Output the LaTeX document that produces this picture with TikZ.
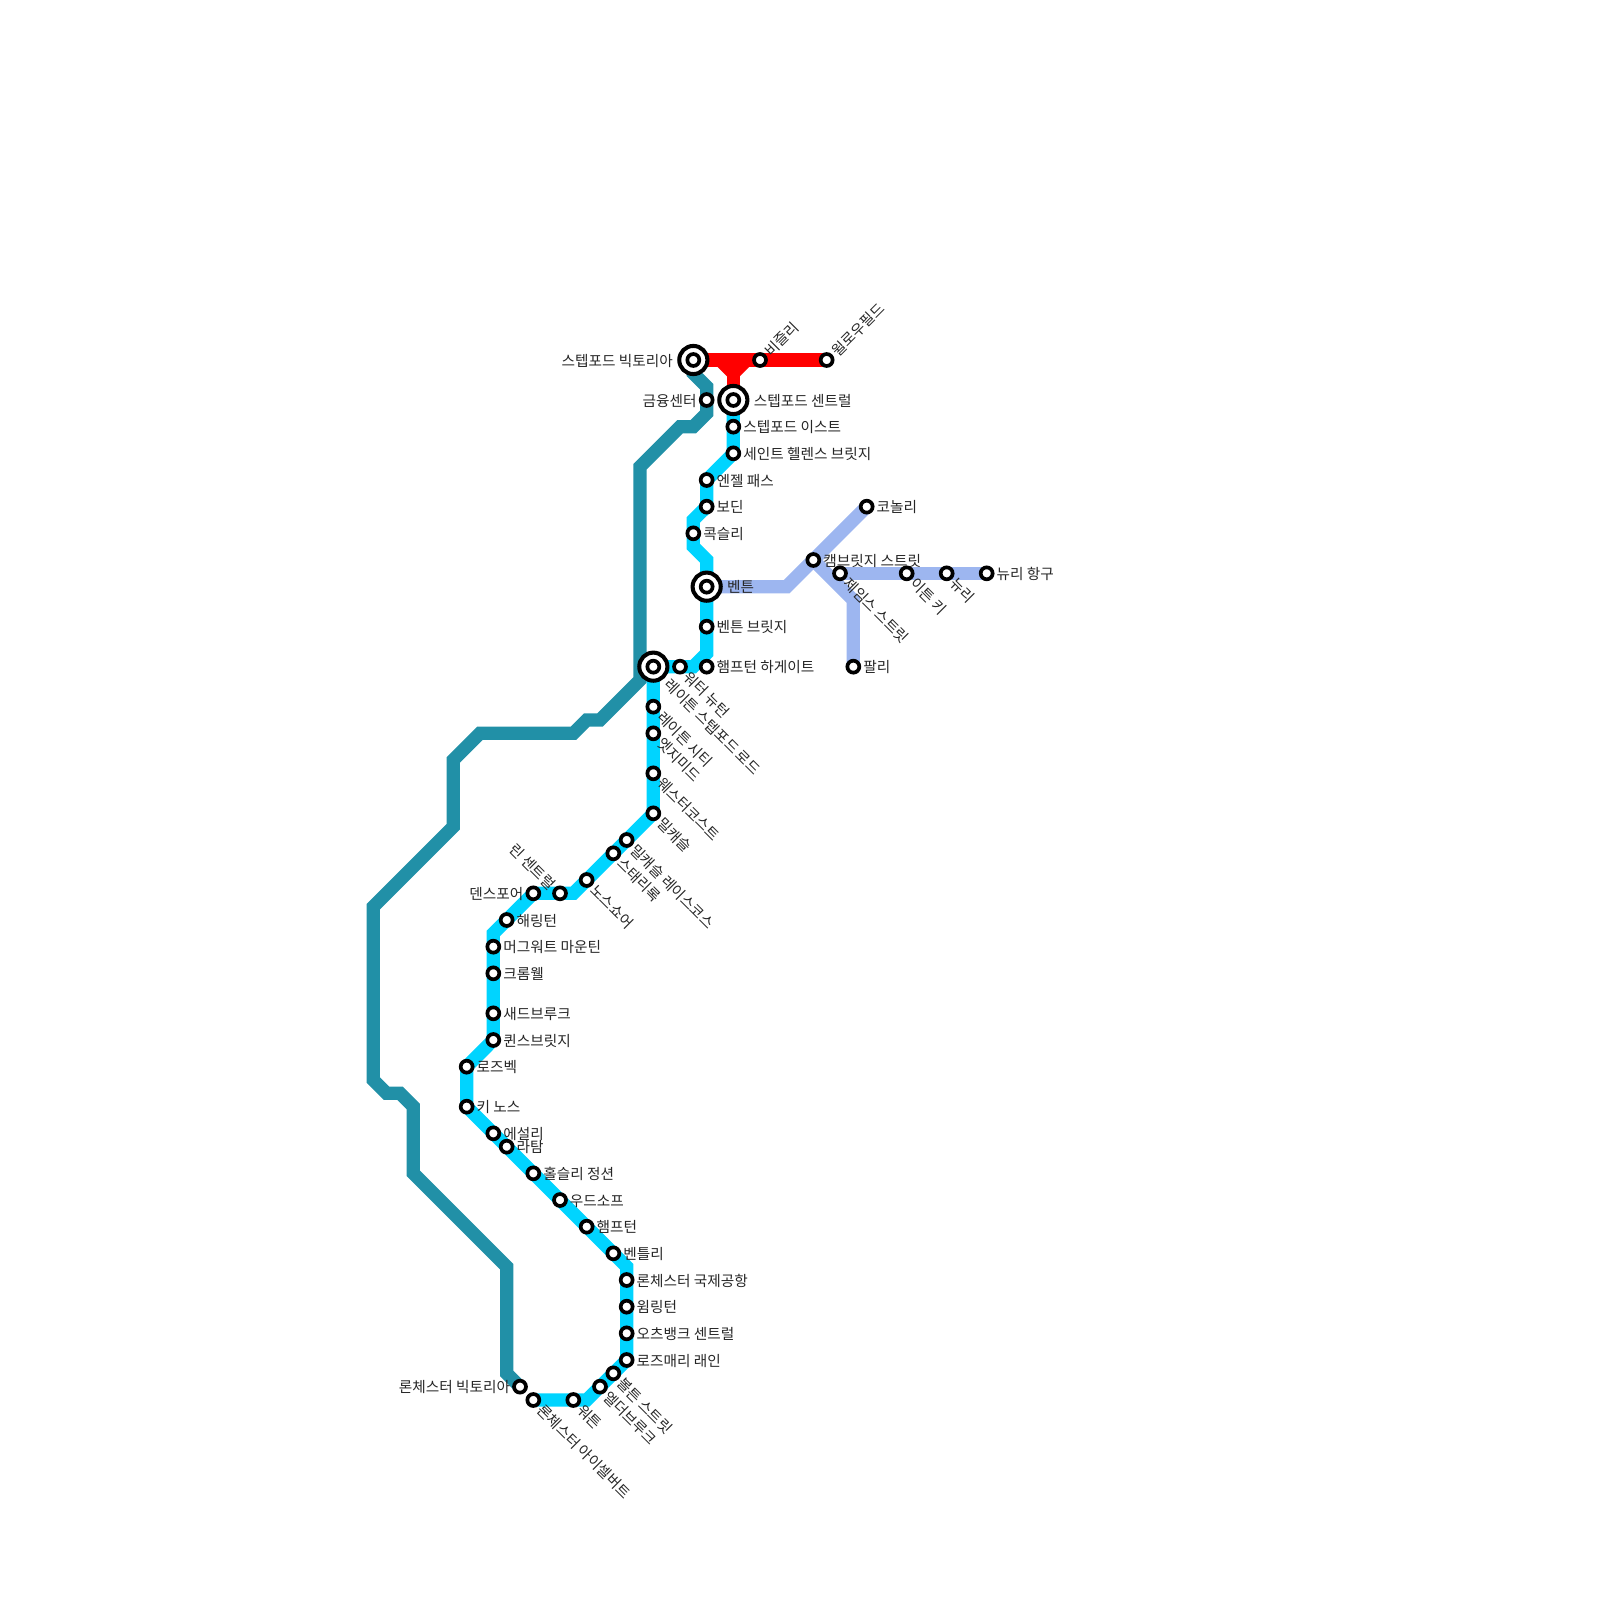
\documentclass[tikz,border=0pt]{standalone}
\usepackage{fontspec}
\setmainfont{Noto Sans CJK KR}
\pgfdeclarelayer{bg}
\pgfsetlayers{bg,main}
\definecolor{teal1}{RGB}{33,144,167}
\definecolor{cyan1}{RGB}{0,212,255}
\definecolor{blue1}{RGB}{157,182,240}
\definecolor{red1}{RGB}{255,0,0}
\tikzset{
  route/.style={line width=3.78pt,line join=miter},
  stat/.style={circle,draw=black,fill=white,line width=1.05pt,minimum size=3.4pt,inner sep=0pt},
  hub/.style={circle,draw=black,fill=white,line width=1.15pt,minimum size=8pt,inner sep=0pt},
  txt/.style={inner sep=0pt,outer sep=0pt,text=black!85,font=\fontsize{4.17pt}{4.17pt}\selectfont,text height=4pt,text depth=.5pt},
  lr/.style={txt,anchor=west},
  ll/.style={txt,anchor=east},
  ld/.style={txt,anchor=west,rotate=-45},
  lu/.style={txt,anchor=west,rotate=45},
  le/.style={txt,anchor=east,rotate=-45},
}
\newcommand\sR[4]{\node[stat] (#1) at (#2,#3) {};\node[lr] (#1-l) at ([xshift=2.835pt]#1.center) {#4};}
\newcommand\sL[4]{\node[stat] (#1) at (#2,#3) {};\node[ll] (#1-l) at ([xshift=-2.835pt]#1.center) {#4};}
\newcommand\sD[4]{\node[stat] (#1) at (#2,#3) {};\node[ld] (#1-l) at ([xshift=2pt,yshift=-2pt]#1.center) {#4};}
\newcommand\sU[4]{\node[stat] (#1) at (#2,#3) {};\node[lu] (#1-l) at ([xshift=2pt,yshift=2pt]#1.center) {#4};}
\newcommand\sE[4]{\node[stat] (#1) at (#2,#3) {};\node[le] (#1-l) at ([xshift=-2pt,yshift=2pt]#1.center) {#4};}
\begin{document}
\begin{tikzpicture}[x=.01cm,y=-.01cm]
\useasboundingbox (0,0) rectangle (1600,1600);
% interchange rings
\node[hub] (vicO) at (693.33,360) {};
\node[hub] (cenO) at (733.33,400) {};
\node[hub] (benO) at (706.67,586.67) {};
\node[hub] (lsrO) at (653.33,666.67) {};
% stations
\node[stat] (vic) at (vicO.center) {};
\node[ll] (vic-l) at ([xshift=-5.84pt]vic.center) {스텝포드 빅토리아};
\node[stat] (cen) at (cenO.center) {};
\node[lr] (cen-l) at ([xshift=5.84pt]cen.center) {스텝포드 센트럴};
\node[stat] (ben) at (benO.center) {};
\node[lr] (ben-l) at ([xshift=5.84pt]ben.center) {벤튼};
\node[stat] (lsr) at (lsrO.center) {};
\node[ld] (lsr-l) at ([xshift=4.13pt,yshift=-4.13pt]lsr.center) {레이튼 스텝포드 로드};
\sU{bih}{760}{360}{비즐리}
\sU{wil}{826.67}{360}{윌로우필드}
\sL{fin}{706.67}{400}{금융센터}
\sR{eas}{733.33}{426.67}{스텝포드 이스트}
\sR{hel}{733.33}{453.33}{세인트 헬렌스 브릿지}
\sR{ang}{706.67}{480}{엔젤 패스}
\sR{bod}{706.67}{506.67}{보딘}
\sR{cox}{693.33}{533.33}{콕슬리}
\sR{bbr}{706.67}{626.67}{벤튼 브릿지}
\sR{hhg}{706.67}{666.67}{햄프턴 하게이트}
\sD{wnw}{680}{666.67}{워터 뉴턴}
\sD{lci}{653.33}{706.67}{레이튼 시티}
\sD{edg}{653.33}{733.33}{엣지미드}
\sD{wes}{653.33}{773.33}{웨스터코스트}
\sD{mil}{653.33}{813.33}{밀캐슬}
\sD{mrc}{626.67}{840}{밀캐슬 레이스코스}
\sD{sta}{613.33}{853.33}{스태리록}
\sD{nor}{586.67}{880}{노스쇼어}
\sE{rin}{560}{893.33}{린 센트럴}
\sL{den}{533.33}{893.33}{덴스포어}
\sR{har}{506.67}{920}{해링턴}
\sR{mug}{493.33}{946.67}{머그워트 마운틴}
\sR{cro}{493.33}{973.33}{크롬웰}
\sR{sad}{493.33}{1013.33}{새드브루크}
\sR{que}{493.33}{1040}{퀸스브릿지}
\sR{ros}{466.67}{1066.67}{로즈벡}
\sR{key}{466.67}{1106.67}{키 노스}
\sR{esh}{493.33}{1133.33}{에설리}
\sR{lat}{506.67}{1146.67}{라탐}
\sR{hol}{533.33}{1173.33}{홀슬리 정션}
\sR{woo}{560}{1200}{우드소프}
\sR{ham}{586.67}{1226.67}{햄프턴}
\sR{ben2}{613.33}{1253.33}{벤틀리}
\sR{air}{626.67}{1280}{론체스터 국제공항}
\sR{wim}{626.67}{1306.67}{윔링턴}
\sR{och}{626.67}{1333.33}{오츠뱅크 센트럴}
\sR{rml}{626.67}{1360}{로즈매리 래인}
\sD{bol}{613.33}{1373.33}{볼튼 스트릿}
\sD{eld}{600}{1386.67}{엘더브루크}
\sD{wot}{573.33}{1400}{워튼}
\sD{ice}{533.33}{1400}{론체스터 아이셀버트}
\sL{rvi}{520}{1386.67}{론체스터 빅토리아}
\sR{cam}{813.33}{560}{캠브릿지 스트릿}
\sD{jam}{840}{573.33}{제임스 스트릿}
\sR{con}{866.67}{506.67}{코놀리}
\sR{far}{853.33}{666.67}{팔리}
\sD{eat}{906.67}{573.33}{이튼 키}
\sD{new}{946.67}{573.33}{뉴리}
\sR{nai}{986.67}{573.33}{뉴리 항구}
% bend points
\coordinate (t0) at (693.33,373.33);
\coordinate (t1) at (706.67,386.67);
\coordinate (t2) at (706.67,413.33);
\coordinate (t3) at (693.33,426.67);
\coordinate (t4) at (680,426.67);
\coordinate (t5) at (640,466.67);
\coordinate (t6) at (640,680);
\coordinate (t7) at (600,720);
\coordinate (t8) at (586.67,720);
\coordinate (t9) at (573.33,733.33);
\coordinate (t10) at (480,733.33);
\coordinate (t11) at (453.33,760);
\coordinate (t12) at (453.33,826.67);
\coordinate (t13) at (373.33,906.67);
\coordinate (t14) at (373.33,1080);
\coordinate (t15) at (386.67,1093.33);
\coordinate (t16) at (400,1093.33);
\coordinate (t17) at (413.33,1106.67);
\coordinate (t18) at (413.33,1173.33);
\coordinate (t19) at (506.67,1266.67);
\coordinate (t20) at (506.67,1373.33);
\coordinate (c1) at (706.67,506.67);
\coordinate (c2) at (693.33,520);
\coordinate (c3) at (693.33,546.67);
\coordinate (c4) at (706.67,560);
\coordinate (c5) at (706.67,653.33);
\coordinate (c6) at (693.33,666.67);
\coordinate (c7) at (573.33,893.33);
\coordinate (c8) at (493.33,933.33);
\coordinate (c9) at (626.67,1266.67);
\coordinate (c10) at (586.67,1400);
\coordinate (b1) at (786.67,586.67);
\coordinate (b2) at (853.33,600);
\coordinate (r1) at (720,360);
\coordinate (r2) at (733.33,373.33);
\coordinate (r3) at (746.67,360);
\begin{pgfonlayer}{bg}
\draw[route,teal1] (vic.center) -- (t0) -- (t1) -- (t2) -- (t3) -- (t4) -- (t5) -- (t6) -- (t7) -- (t8) -- (t9) -- (t10) -- (t11) -- (t12) -- (t13) -- (t14) -- (t15) -- (t16) -- (t17) -- (t18) -- (t19) -- (t20) -- (rvi.center);
\draw[route,cyan1] (cen.center) -- (hel.center) -- (ang.center) -- (c1) -- (c2) -- (c3) -- (c4) -- (c5) -- (c6) -- (lsr.center) -- (mil.center) -- (c7) -- (den.center) -- (c8) -- (que.center) -- (ros.center) -- (key.center) -- (c9) -- (rml.center) -- (c10) -- (ice.center);
\draw[route,blue1] (ben.center) -- (b1) -- (con.center);
\draw[route,blue1] (cam.center) -- (b2) -- (far.center);
\draw[route,blue1] (jam.center) -- (nai.center);
\draw[route,red1] (vic.center) -- (wil.center);
\draw[route,red1,line join=bevel] (r1) -- (r2) -- (r3);
\draw[route,red1] (r2) -- (cen.center);
\end{pgfonlayer}
\end{tikzpicture}
\end{document}
